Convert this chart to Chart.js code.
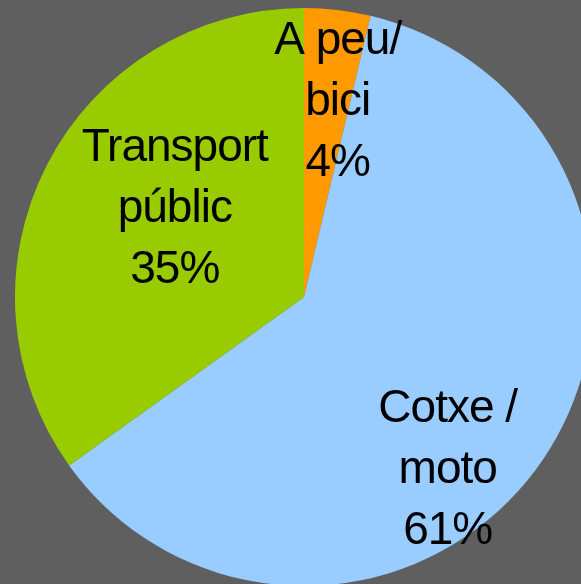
<!DOCTYPE html>
<html>
<head>
<meta charset="utf-8">
<script src="https://cdn.jsdelivr.net/npm/chart.js@4/dist/chart.umd.min.js"></script>
<style>
    html, body { margin: 0; padding: 0; width: 581px; height: 584px; overflow: hidden; background: #5f5f5f; }
    #wrap { position: absolute; left: 15px; top: 8px; width: 578px; height: 578px; }
</style>
</head>
<body>
<div id="wrap"><canvas id="chart" width="578" height="578"></canvas></div>
<script>
// slices, clockwise from 12 o'clock
const categories = [['A peu/', 'bici'], ['Cotxe /', 'moto'], ['Transport', 'públic']];
const shares = [3.7, 61.4, 34.9];
const sliceColors = ['#ff9900', '#99ccff', '#99cc00'];

// where each label sits inside its slice: angle shift from mid-angle (deg), fraction of radius
const labelPlacement = [
    { shift: 3.0, radius: 0.695 },
    { shift: 15.8, radius: 0.768 },
    { shift: 8.0, radius: 0.547 },
];

const sliceLabels = {
    id: 'sliceLabels',
    afterDatasetsDraw(chart) {
        const ctx = chart.ctx;
        const meta = chart.getDatasetMeta(0);
        const fontSize = 46;
        const lineHeight = 61;
        ctx.save();
        ctx.font = fontSize + 'px "Liberation Sans", Arial, sans-serif';
        ctx.letterSpacing = '-1px';
        ctx.fillStyle = '#000';
        ctx.textAlign = 'center';
        ctx.textBaseline = 'alphabetic';
        meta.data.forEach((arc, i) => {
            const p = labelPlacement[i];
            const mid = (arc.startAngle + arc.endAngle) / 2 + p.shift * Math.PI / 180;
            const r = arc.outerRadius * p.radius;
            const cx = arc.x + Math.cos(mid) * r;
            const cy = arc.y + Math.sin(mid) * r;
            const lines = [...categories[i], Math.round(shares[i]) + '%'];
            // middle line's cap centre at (cx, cy)
            const base = cy + fontSize * 0.358 - lineHeight * (lines.length - 1) / 2;
            lines.forEach((t, k) => ctx.fillText(t, cx, base + k * lineHeight));
        });
        ctx.restore();
    }
};

new Chart(document.getElementById('chart'), {
    type: 'pie',
    data: {
        labels: categories.map(c => c.join(' ')),
        datasets: [{
            data: shares,
            backgroundColor: sliceColors,
            borderWidth: 0,
        }]
    },
    options: {
        responsive: false,
        animation: false,
        layout: { padding: 0 },
        plugins: {
            legend: { display: false },
            tooltip: { enabled: false },
        }
    },
    plugins: [sliceLabels]
});
</script>
</body>
</html>
